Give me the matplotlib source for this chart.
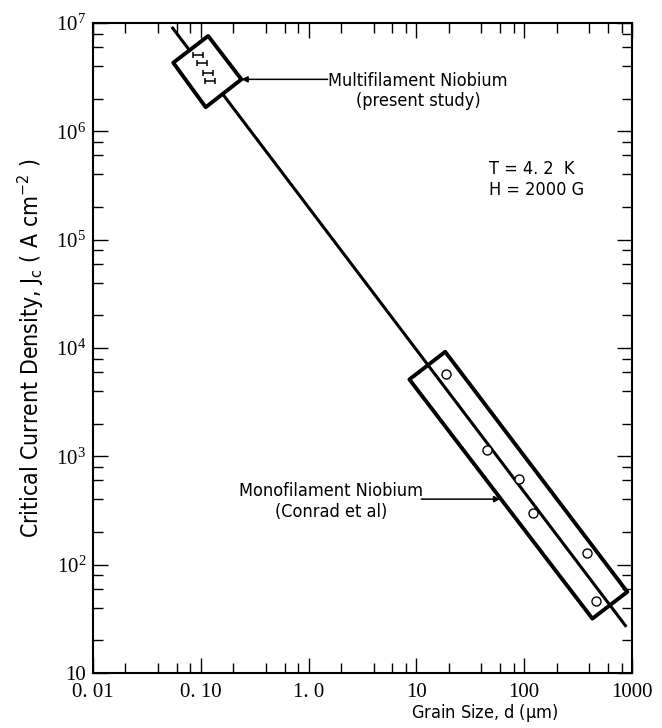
"""Critical current density vs grain size for niobium, log-log."""
import matplotlib

matplotlib.use("Agg")
import matplotlib.pyplot as plt  # noqa: E402
from matplotlib.ticker import FixedLocator, FixedFormatter, NullFormatter  # noqa: E402

SANS = dict(family="DejaVu Sans", stretch="condensed", fontsize=13)
SERIF = ["Liberation Serif", "DejaVu Serif"]

# fitted line through both data sets
LINE_D = [0.0538, 886]
LINE_JC = [9.2e6, 26.7]

# multifilament niobium (present study), x error bars
MULTI_D = [0.0944, 0.103, 0.117, 0.121]
MULTI_JC = [5.07e6, 4.30e6, 3.48e6, 2.93e6]
MULTI_D_LO = [0.0095, 0.0104, 0.0118, 0.0122]
MULTI_D_HI = [0.0106, 0.0115, 0.0131, 0.0136]

# monofilament niobium (Conrad et al)
MONO_D = [18.8, 45, 90, 121, 381, 464]
MONO_JC = [5780, 1150, 620, 303, 129, 46]

# outline boxes drawn round each data set (corners)
TOP_BOX_D = [0.117, 0.238, 0.111, 0.0555]
TOP_BOX_JC = [7.59e6, 3.02e6, 1.67e6, 4.3e6]
BOT_BOX_D = [18.5, 904, 429, 8.61]
BOT_BOX_JC = [9230, 56.1, 31.8, 5130]

X_TICKS = [0.01, 0.1, 1, 10, 100, 1000]
X_LABELS = ["0. 01", "0. 10", "1. 0", "10", "100", "1000"]
Y_TICKS = [10, 1e2, 1e3, 1e4, 1e5, 1e6, 1e7]
Y_LABELS = ["10"] + [r"$\mathregular{10^{%d}}$" % k for k in range(2, 8)]


def minor_positions(lo_exp, hi_exp):
    return [m * 10.0 ** e for e in range(lo_exp, hi_exp) for m in (2, 4, 6, 8)]


fig = plt.figure(figsize=(6.62, 7.28), dpi=100)
ax = fig.add_axes([0.1405, 0.0755, 0.8142, 0.8929])
ax.set_xscale("log")
ax.set_yscale("log")
ax.set_xlim(0.01, 1000)
ax.set_ylim(10, 1e7)

ax.plot(LINE_D, LINE_JC, color="black", lw=2.2, solid_capstyle="butt", zorder=2)

ax.fill(TOP_BOX_D, TOP_BOX_JC, facecolor="white", edgecolor="black",
        lw=2.8, joinstyle="round", zorder=3)
ax.fill(BOT_BOX_D, BOT_BOX_JC, facecolor="none", edgecolor="black",
        lw=2.8, joinstyle="round", zorder=3)

ax.errorbar(MULTI_D, MULTI_JC, xerr=[MULTI_D_LO, MULTI_D_HI], fmt="none",
            ecolor="black", elinewidth=1.1, capsize=2.2, capthick=1.1, zorder=4)
ax.plot(MONO_D, MONO_JC, "o", ms=6.5, mfc="white", mec="black", mew=1.0,
        zorder=4)

ax.annotate("", xy=(TOP_BOX_D[1], TOP_BOX_JC[1]), xytext=(1.50, TOP_BOX_JC[1]),
            arrowprops=dict(arrowstyle="-|>", color="black", lw=1.1,
                            mutation_scale=9, shrinkA=0, shrinkB=0))
ax.text(10.4, 2.36e6, "Multifilament Niobium\n(present study)", **SANS,
        ha="center", va="center", multialignment="center")

ax.annotate("", xy=(60, 403), xytext=(11.1, 403),
            arrowprops=dict(arrowstyle="-|>", color="black", lw=1.1,
                            mutation_scale=9, shrinkA=0, shrinkB=0))
ax.text(1.63, 386, "Monofilament Niobium\n(Conrad et al)", **SANS,
        ha="center", va="center", multialignment="center")

ax.text(47.4, 3.59e5, "T = 4. 2  K\nH = 2000 G", **SANS,
        ha="left", va="center")

ax.xaxis.set_major_locator(FixedLocator(X_TICKS))
ax.xaxis.set_major_formatter(FixedFormatter(X_LABELS))
ax.xaxis.set_minor_locator(FixedLocator(minor_positions(-2, 3)))
ax.xaxis.set_minor_formatter(NullFormatter())
ax.yaxis.set_major_locator(FixedLocator(Y_TICKS))
ax.yaxis.set_major_formatter(FixedFormatter(Y_LABELS))
ax.yaxis.set_minor_locator(FixedLocator(minor_positions(1, 7)))
ax.yaxis.set_minor_formatter(NullFormatter())

ax.tick_params(which="both", direction="in", top=True, right=True, width=1.0)
ax.tick_params(which="major", length=11)
ax.tick_params(which="minor", length=7.5)
ax.tick_params(axis="x", which="major", pad=7)
ax.tick_params(axis="y", which="major", pad=5)
for lab in ax.get_xticklabels() + ax.get_yticklabels():
    lab.set_family(SERIF)
    lab.set_fontsize(15)
for sp in ax.spines.values():
    sp.set_linewidth(1.5)

ax.set_xlabel(r"Grain Size, d ($\mathregular{\mu}$m)", **SANS)
ax.set_ylabel(r"Critical Current Density, $\mathregular{J_c}$ ( A cm$\mathregular{^{-2}}$ )",
              family="DejaVu Sans", stretch="condensed", fontsize=16.5)
ax.xaxis.set_label_coords(0.727, -0.045)
ax.yaxis.set_label_coords(-0.088, 0.5)

fig.savefig("out.png", dpi=100)
